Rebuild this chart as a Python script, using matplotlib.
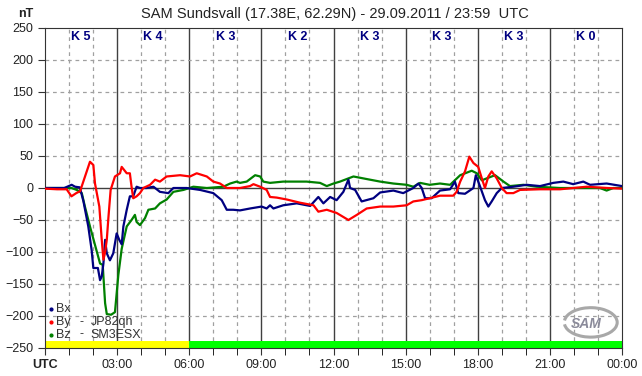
import matplotlib
matplotlib.use("Agg")
import matplotlib.pyplot as plt
from matplotlib.patches import Arc

plt.rcParams['font.family'] = ['Liberation Sans', 'DejaVu Sans']

# Data (hours UTC, nT)
bx_t = [0, 0.8, 1.11, 1.25, 1.45, 1.6, 1.8, 1.94, 2.01, 2.2, 2.29, 2.36, 2.43, 2.5, 2.57, 2.7, 2.84,
        2.98, 3.09, 3.19, 3.26, 3.4, 3.53, 3.67, 3.81, 3.95, 4.23, 4.51, 4.78, 5.13, 5.34, 5.89, 6.45,
        7.0, 7.35, 7.56, 7.83, 8.11, 8.53, 9.01, 9.22, 9.36, 9.5, 9.91, 10.47, 11.03, 11.37, 11.58,
        11.86, 12.13, 12.41, 12.62, 12.69, 12.9, 13.17, 13.66, 13.94, 14.49, 14.9, 15.32, 15.53,
        15.67, 15.81, 16.08, 16.43, 16.85, 17.05, 17.19, 17.47, 17.82, 17.92, 18.1, 18.3, 18.44,
        18.58, 18.79, 19.0, 19.48, 20.03, 20.59, 21.14, 21.56, 21.97, 22.39, 22.67, 23.36, 24.0]
bx_v = [0, 0, 5, 2, 1, -21, -60, -97, -125, -125, -144, -138, -118, -81, -102, -113, -102,
        -71, -81, -88, -60, -34, -13, -13, 2, 0, 0, 2, -6, -8, 0, 0, -3,
        -8, -19, -34, -34, -35, -32, -29, -32, -27, -32, -27, -24, -28, -14, -24,
        -14, -19, -6, 13, 0, -3, -21, -16, -7, -4, -8, 0, 7,
        0, -16, -16, -4, -2, 10, -8, -9, 0, 20, 2, -19, -29,
        -21, -8, 0, 2, 5, 3, 8, 10, 6, 10, 5, 7, 3]

by_t = [0, 0.5, 0.9, 1.1, 1.3, 1.46, 1.87, 2.01, 2.08, 2.26, 2.36, 2.43, 2.5, 2.57, 2.64, 2.73, 2.91,
        3.12, 3.19, 3.4, 3.53, 3.6, 3.67, 3.81, 3.95, 4.09, 4.37, 4.58, 4.78, 5.06, 5.62, 6.03, 6.31,
        6.73, 7.0, 7.28, 7.56, 8.11, 8.53, 8.67, 8.95, 9.22, 9.36, 9.64, 10.06, 10.61, 11.17, 11.37,
        11.72, 12.13, 12.62, 12.97, 13.38, 13.94, 14.49, 15.04, 15.32, 15.67, 16.0, 16.43, 16.98,
        17.12, 17.27, 17.47, 17.65, 17.82, 18.02, 18.17, 18.3, 18.44, 18.58, 18.79, 19.0, 19.2,
        19.48, 19.76, 20.59, 21.42, 22.53, 23.4, 24.0]
by_v = [-1, -2, -2, -13, -8, -5, 41, 36, 7, -29, -81, -112, -100, -81, -45, -3, 18,
        23, 33, 23, 23, 2, -16, -13, -8, 0, 5, 13, 10, 18, 20, 18, 23,
        18, 10, 7, 0, 0, 3, 6, 2, -3, -14, -15, -18, -23, -27, -37,
        -34, -39, -50, -42, -32, -29, -29, -27, -21, -19, -16, -12, -12,
        -6, 10, 26, 49, 39, 33, 15, 0, 18, 26, 15, 0, -8,
        -8, -3, -2, -2, 2, 0, -1]

bz_t = [0, 1.1, 1.32, 1.53, 1.66, 1.87, 2.08, 2.29, 2.4, 2.5, 2.57, 2.75, 2.91, 3.05, 3.19, 3.4,
        3.6, 3.74, 3.81, 3.95, 4.16, 4.3, 4.58, 4.78, 5.06, 5.34, 5.76, 6.17, 6.73, 7.42, 7.7, 7.97,
        8.11, 8.39, 8.74, 8.95, 9.08, 9.36, 9.91, 10.88, 11.44, 11.72, 12.0, 12.27, 12.83, 13.38,
        13.94, 14.49, 15.04, 15.32, 15.6, 16.0, 16.43, 16.85, 17.27, 17.75, 17.96, 18.17, 18.37,
        18.72, 19.07, 19.34, 19.9, 20.45, 21.42, 23.08, 23.36, 23.64, 24.0]
bz_v = [0, 0, -3, -8, -29, -60, -89, -118, -120, -180, -197, -198, -194, -136, -95, -60,
        -50, -42, -53, -58, -47, -34, -32, -24, -18, -6, -3, 2, 0, 2, 7, 10,
        8, 10, 20, 18, 10, 8, 10, 10, 8, 3, 7, 10, 18, 14,
        10, 7, 5, 2, 8, 5, 7, 5, 20, 27, 23, 12, 15,
        20, 10, 3, 5, 2, 0, 0, -4, 0, 0]

k_index = ['K 5', 'K 4', 'K 3', 'K 2', 'K 3', 'K 3', 'K 3', 'K 0']
hour_labels = ['UTC', '03:00', '06:00', '09:00', '12:00', '15:00', '18:00', '21:00', '00:00']
y_ticks = [250, 200, 150, 100, 50, 0, -50, -100, -150, -200, -250]

fig = plt.figure(figsize=(6.42, 3.76), dpi=100)
ax = fig.add_axes([45 / 642, 28 / 376, 577 / 642, 320 / 376])
ax.set_xlim(0, 24)
ax.set_ylim(-250, 250)

# grid
for h in range(1, 24):
    if h % 3:
        ax.axvline(h, color='#a0a0a0', lw=0.9, ls=(0, (3, 3)), zorder=1)
    else:
        ax.axvline(h, color='#404040', lw=1.0, zorder=1)
for y in y_ticks[1:-1]:
    if y == 0:
        ax.axhline(0, color='#404040', lw=1.0, zorder=1)
    else:
        ax.axhline(y, color='#a0a0a0', lw=0.9, ls=(0, (3, 3)), zorder=1)

# day/night band
ax.axhspan(-250, -239, xmin=0, xmax=6 / 24, color='#ffff00', lw=0, zorder=2)
ax.axhspan(-250, -239, xmin=6 / 24, xmax=1, color='#00ff00', lw=0, zorder=2)

ax.plot(bx_t, bx_v, color='#000080', lw=1.6, zorder=4)
ax.plot(bz_t, bz_v, color='#008000', lw=1.6, zorder=3)
ax.plot(by_t, by_v, color='#ff0000', lw=1.6, zorder=5)

# K index labels
for i, k in enumerate(k_index):
    ax.text(3 * i + 1.5, 246, k, color='#000080', fontsize=9, fontweight='bold',
            ha='center', va='top', zorder=6)

# legend
legend_rows = [('Bx', '', '', '#000080'), ('By', '-', 'JP82qh', '#ff0000'), ('Bz', '-', 'SM3ESX', '#008000')]
for i, (name, dash, call, c) in enumerate(legend_rows):
    y = -189 - 20 * i
    ax.plot([0.25], [y], marker='o', ms=2, color=c, zorder=6)
    ax.text(0.45, y, name, fontsize=9, color='#333333', va='center', zorder=6)
    ax.text(1.45, y, dash, fontsize=9, color='#333333', va='center', zorder=6)
    ax.text(1.9, y, call, fontsize=9, color='#333333', va='center', zorder=6)

# SAM logo
ax.text(22.5, -212, 'SAM', fontsize=10, style='italic', fontweight='bold', color='#8a8a9a',
        ha='center', va='center', zorder=6)
ax.add_patch(Arc((22.7, -210), 2.2, 46, theta1=-110, theta2=110, color='#a8a8a8', lw=2.2, zorder=6))

ax.set_xticks(range(0, 25, 3))
ax.set_xticklabels(hour_labels)
ax.set_xticks(range(0, 25), minor=True)
ax.set_yticks(y_ticks)
ax.tick_params(axis='both', labelsize=9, labelcolor='#222222', color='#333333', direction='out')
ax.tick_params(axis='x', which='both', length=5, pad=3)
ax.tick_params(axis='y', length=5)
ax.get_xticklabels()[0].set_fontweight('bold')
for s in ax.spines.values():
    s.set_color('#333333')

fig.text(18 / 642, 1 - 14 / 376, 'nT', fontsize=9, fontweight='bold', color='#222222',
         ha='left', va='center')
fig.text(335 / 642, 1 - 14 / 376, 'SAM Sundsvall (17.38E, 62.29N) - 29.09.2011 / 23:59  UTC',
         fontsize=10.5, color='#222222', ha='center', va='center')

fig.savefig('out.png', dpi=100)
